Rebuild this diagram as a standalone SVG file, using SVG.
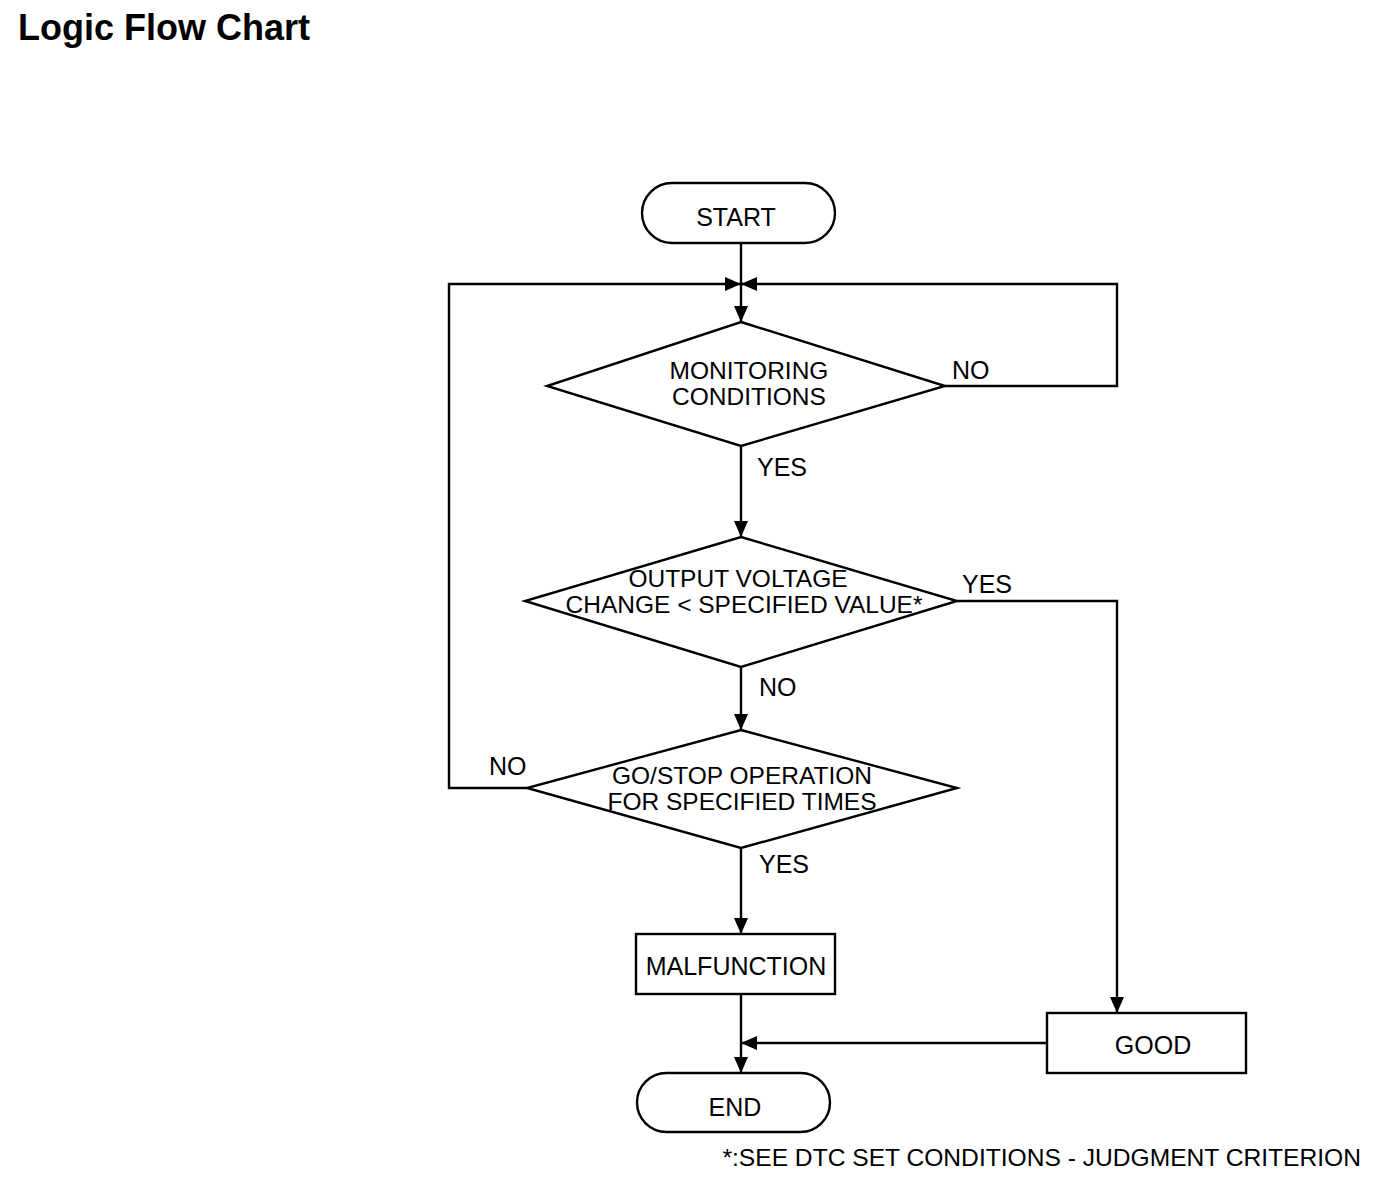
<svg xmlns="http://www.w3.org/2000/svg" width="1392" height="1186" viewBox="0 0 1392 1186">
<style>
.s{fill:#fff;stroke:#000;stroke-width:2.4}
.c{fill:none;stroke:#000;stroke-width:2.4}
text{font-family:"Liberation Sans",Arial,sans-serif;font-size:25px;fill:#000}
.m{text-anchor:middle}
.d{font-size:24.5px}
</style>
<defs>
<marker id="a" markerWidth="16" markerHeight="14" refX="16" refY="7" orient="auto" markerUnits="userSpaceOnUse">
<path d="M0,0 L16,7 L0,14 Z" fill="#000"/>
</marker>
</defs>
<rect width="1392" height="1186" fill="#fff"/>
<text x="18" y="40" style="font-size:36px;font-weight:bold">Logic Flow Chart</text>
<g id="connectors">
<path class="c" d="M741,243 V322" marker-end="url(#a)"/>
<path class="c" d="M945,386 H1117 V284 H741" marker-end="url(#a)"/>
<path class="c" d="M527,788 H449 V284 H741" marker-end="url(#a)"/>
<path class="c" d="M741,446 V537" marker-end="url(#a)"/>
<path class="c" d="M957,601 H1117 V1013" marker-end="url(#a)"/>
<path class="c" d="M741,667 V730" marker-end="url(#a)"/>
<path class="c" d="M741,848 V934" marker-end="url(#a)"/>
<path class="c" d="M741,994 V1073" marker-end="url(#a)"/>
<path class="c" d="M1047,1043 H741" marker-end="url(#a)"/>
<text x="952" y="379">NO</text>
<text x="757" y="476">YES</text>
<text x="962" y="593">YES</text>
<text x="759" y="696">NO</text>
<text x="489" y="775">NO</text>
<text x="759" y="873">YES</text>
</g>
<g id="start">
<rect class="s" x="642" y="183" width="193" height="60" rx="30"/>
<text class="m" x="736" y="226">START</text>
</g>
<g id="monitoring">
<polygon class="s" points="741,322 945,386 741,446 547,386"/>
<text class="m d" x="749" y="379">MONITORING</text>
<text class="m d" x="749" y="405">CONDITIONS</text>
</g>
<g id="voltage">
<polygon class="s" points="741,537 957,601 741,667 525,601"/>
<text class="m d" x="738" y="587">OUTPUT VOLTAGE</text>
<text class="m d" x="744" y="613">CHANGE &lt; SPECIFIED VALUE*</text>
</g>
<g id="gostop">
<polygon class="s" points="741,730 957,788 741,848 527,788"/>
<text class="m d" x="742" y="784">GO/STOP OPERATION</text>
<text class="m d" x="742" y="810">FOR SPECIFIED TIMES</text>
</g>
<g id="malfunction">
<rect class="s" x="636" y="934" width="199" height="60"/>
<text class="m" x="736" y="975">MALFUNCTION</text>
</g>
<g id="good">
<rect class="s" x="1047" y="1013" width="199" height="60"/>
<text class="m" x="1153" y="1054">GOOD</text>
</g>
<g id="end">
<rect class="s" x="637" y="1073" width="193" height="59" rx="29.5"/>
<text class="m" x="735" y="1116">END</text>
</g>
<text x="1361" y="1166" style="text-anchor:end;font-size:24.6px">*:SEE DTC SET CONDITIONS - JUDGMENT CRITERION</text>
</svg>
